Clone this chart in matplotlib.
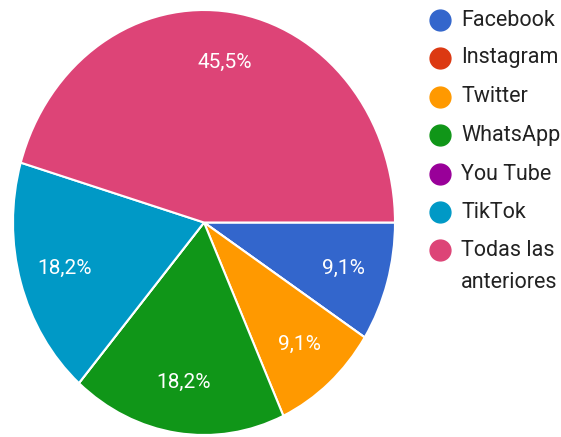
import matplotlib.pyplot as plt
from matplotlib.lines import Line2D

labels = ['Facebook', 'Instagram', 'Twitter', 'WhatsApp', 'You Tube', 'TikTok', 'Todas las\nanteriores']
counts = [1, 0, 1, 2, 0, 2, 5]
colors = ['#3366cc', '#dc3912', '#ff9900', '#109618', '#990099', '#0099c6', '#dd4477']

plt.rcParams['font.family'] = ['Roboto', 'DejaVu Sans']


def pct_label(p):
    if p < 0.5:
        return ''
    return ('%.1f%%' % p).replace('.', ',')


fig = plt.figure(figsize=(5.61, 4.37), dpi=100)
ax = fig.add_axes([13 / 561, 2 / 437, 382 / 561, 425 / 437])
wedges, texts, autotexts = ax.pie(counts, colors=colors, startangle=0, counterclock=False,
                                  autopct=pct_label, pctdistance=0.76,
                                  wedgeprops=dict(edgecolor='white', linewidth=1.5),
                                  textprops=dict(color='white', fontsize=15))
ax.set_aspect('auto')
ax.set_xlim(-1.0, 1.0)
ax.set_ylim(-1.0, 1.0)

# legend drawn by hand, in pixel positions from top
rows = [20, 58, 97, 135, 174, 212, 250]
for lab, col, y in zip(labels, colors, rows):
    fig.add_artist(Line2D([440 / 561], [1 - y / 437], marker='o', markersize=15, color=col,
                          linestyle='none', transform=fig.transFigure))
    for i, line in enumerate(lab.split('\n')):
        fig.text(461 / 561, 1 - (y + 33 * i) / 437, line, fontsize=15.5, color='#222222',
                 va='center', transform=fig.transFigure)

plt.savefig('out.png', dpi=100)
